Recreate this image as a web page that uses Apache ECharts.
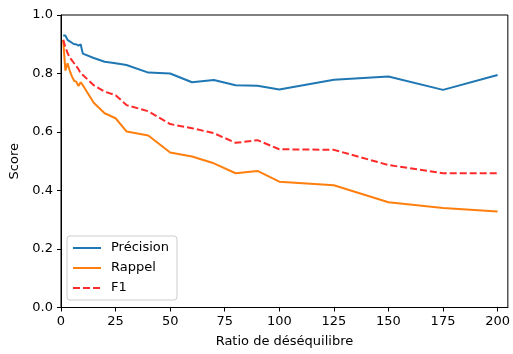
<!DOCTYPE html>
<html><head><meta charset="utf-8">
<script src="https://cdn.jsdelivr.net/npm/echarts@6/dist/echarts.min.js"></script>
<style>html,body{margin:0;padding:0;background:#fff}#c{width:513px;height:354px}</style>
</head><body><div id="c"></div>
<script>
const ratios = [1,2,3,4,5,6,7,8,9,10,15,20,25,30,40,50,60,70,80,90,100,125,150,175,200];
const precision = [0.93,0.93,0.915,0.91,0.905,0.90,0.90,0.895,0.90,0.868,0.853,0.84,0.835,0.829,0.803,0.80,0.770,0.778,0.760,0.758,0.745,0.779,0.790,0.744,0.795];
const rappel = [0.915,0.81,0.835,0.81,0.79,0.775,0.772,0.757,0.770,0.76,0.70,0.664,0.647,0.602,0.588,0.53,0.516,0.493,0.459,0.467,0.43,0.418,0.36,0.34,0.328];
const f1 = [0.915,0.89,0.87,0.855,0.845,0.835,0.825,0.815,0.80,0.795,0.76,0.738,0.726,0.692,0.671,0.627,0.613,0.596,0.563,0.572,0.541,0.539,0.487,0.459,0.459];
const xTicks = [0,25,50,75,100,125,150,175,200];
const seriesNames = ['Précision','Rappel','F1'];

const font = 'DejaVu Sans';
const pair = (ys) => ratios.map((x,i)=>[x, ys[i]]);
const chart = echarts.init(document.getElementById('c'), null, {renderer:'canvas'});
chart.setOption({
  animation: false,
  backgroundColor: '#fff',
  textStyle: {fontFamily: font},
  grid: {left: 61, right: 1, top: 15, bottom: 46.5, show: true, borderColor: '#000', borderWidth: 1, backgroundColor: 'transparent'},
  legend: {
    orient: 'vertical', left: 67, top: 236,
    padding: [5, 8, 5, 5],
    itemWidth: 28, itemHeight: 14, itemGap: 6,
    itemStyle: {opacity: 0},
    backgroundColor: 'rgba(255,255,255,0.8)', borderColor: '#cccccc', borderWidth: 1, borderRadius: 3,
    textStyle: {fontFamily: font, fontSize: 13, color: '#000', lineHeight: 14, padding: [0,0,0,5]},
    data: seriesNames
  },
  xAxis: {
    type: 'value', min: 0, max: 204.7,
    name: 'Ratio de déséquilibre', nameLocation: 'middle', nameGap: 28,
    nameTextStyle: {fontFamily: font, fontSize: 13, color: '#000'},
    axisLine: {show: true, onZero: false, lineStyle: {color: '#000', width: 1}},
    axisTick: {show: true, inside: false, length: 4, customValues: xTicks, lineStyle: {color: '#000'}},
    axisLabel: {fontFamily: font, fontSize: 13, color: '#000', margin: 8, customValues: xTicks},
    splitLine: {show: false}
  },
  yAxis: {
    type: 'value', min: 0, max: 1, interval: 0.2,
    name: 'Score', nameLocation: 'middle', nameGap: 38, nameRotate: 90,
    nameTextStyle: {fontFamily: font, fontSize: 13, color: '#000'},
    axisLine: {show: true, lineStyle: {color: '#000', width: 1}},
    axisTick: {show: true, inside: false, length: 4, lineStyle: {color: '#000'}},
    axisLabel: {fontFamily: font, fontSize: 13, color: '#000', margin: 8, formatter: v => v.toFixed(1)},
    splitLine: {show: false}
  },
  series: [
    {name: seriesNames[0], type: 'line', data: pair(precision), symbol: 'none', showSymbol: false,
     itemStyle: {color: '#1f77b4'}, lineStyle: {color: '#1f77b4', width: 2}},
    {name: seriesNames[1], type: 'line', data: pair(rappel), symbol: 'none', showSymbol: false,
     itemStyle: {color: '#ff7f0e'}, lineStyle: {color: '#ff7f0e', width: 2}},
    {name: seriesNames[2], type: 'line', data: pair(f1), symbol: 'none', showSymbol: false,
     itemStyle: {color: '#ff0000'}, lineStyle: {color: '#ff2a2a', width: 2, type: [7, 3]}}
  ]
});
</script></body></html>
